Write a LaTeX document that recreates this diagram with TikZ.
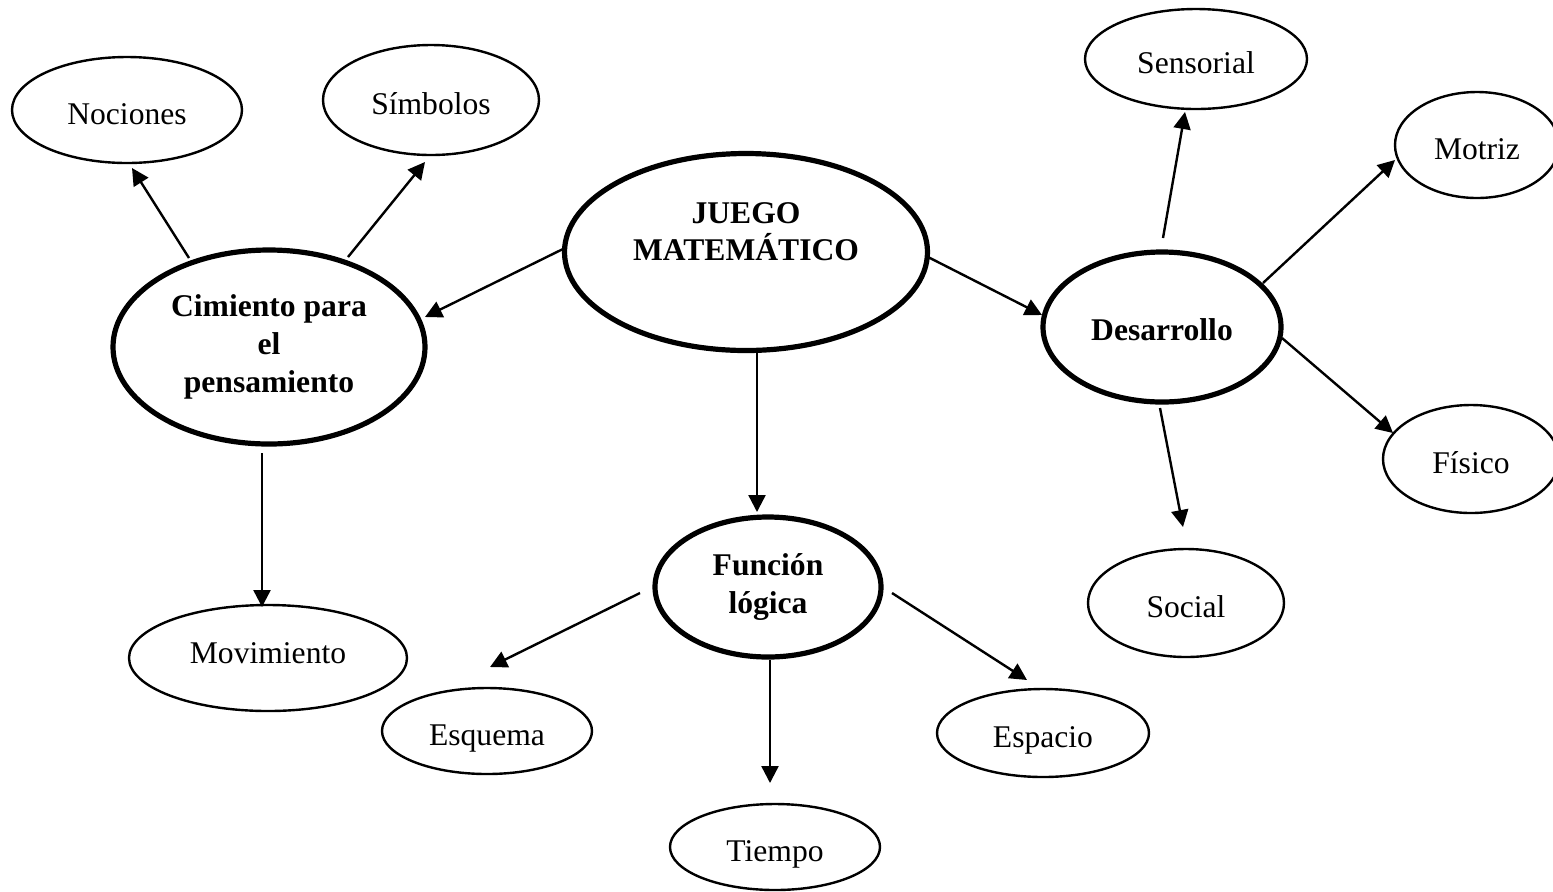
\documentclass[tikz,border=0pt]{standalone}
\usepackage{fontspec}
\setmainfont{Liberation Serif}
\usetikzlibrary{shapes.geometric,arrows.meta,calc}
\begin{document}
\begin{tikzpicture}[x=0.5pt,y=-0.5pt,
  ell/.style={ellipse,draw,line width=1.2pt,inner sep=0pt,text height=14pt,text depth=0pt,font=\fontsize{15.8}{19}\selectfont},
  bigell/.style={ellipse,draw,line width=2.6pt,inner sep=0pt,align=center,font=\fontsize{15.8}{19}\selectfont\bfseries},
  lbl/.style={align=center,inner sep=0pt,font=\fontsize{15.8}{18.5}\selectfont\bfseries},
  arr/.style={-{Triangle[length=8.5pt,width=8.5pt]},line width=1.2pt}]
\useasboundingbox (0,0) rectangle (1553,891);
% main nodes
\node[bigell,minimum width=181.5pt,minimum height=98.5pt] (juego) at (746,252) {};
\node[lbl] (juegot) at (746,232) {JUEGO\\MATEMÁTICO};
\node[bigell,minimum width=156pt,minimum height=97pt] (cim) at (269,347) {Cimiento para\\el\\pensamiento};
\node[bigell,minimum width=119pt,minimum height=75pt,text height=13pt,text depth=0pt] (des) at (1162,327) {Desarrollo};
\node[bigell,minimum width=113pt,minimum height=70pt] (func) at (768,587) {Función\\lógica};
% leaves
\node[ell,minimum width=115pt,minimum height=53pt] (noc) at (127,110) {Nociones};
\node[ell,minimum width=108pt,minimum height=55pt] (sim) at (431,100) {Símbolos};
\node[ell,minimum width=139pt,minimum height=53pt,text height=5pt] (mov) at (268,658) {Movimiento};
\node[ell,minimum width=111pt,minimum height=50pt] (sen) at (1196,59) {Sensorial};
\node[ell,minimum width=82pt,minimum height=53pt] (mot) at (1477,145) {Motriz};
\node[ell,minimum width=88pt,minimum height=54pt] (fis) at (1471,459) {Físico};
\node[ell,minimum width=98pt,minimum height=54pt] (soc) at (1186,603) {Social};
\node[ell,minimum width=105pt,minimum height=43pt] (esq) at (487,731) {Esquema};
\node[ell,minimum width=106pt,minimum height=44pt] (esp) at (1043,733) {Espacio};
\node[ell,minimum width=105pt,minimum height=43pt] (tie) at (775,847) {Tiempo};
% connectors
\draw[arr] ($(juego)+(-181,-4)$) -- ($(cim)+(156,-30)$);
\draw[arr] ($(juego)+(182,5)$) -- ($(des)+(-120,-12)$);
\draw[arr] ($(juego)+(11,98)$) -- ($(func)+(-11,-75)$);
\draw[arr] ($(cim)+(-80,-89)$) -- ($(noc)+(5,58)$);
\draw[arr] ($(cim)+(79,-90)$) -- ($(sim)+(-6,62)$);
\draw[arr] ($(cim)+(-7,106)$) -- ($(mov)+(-6,-51)$);
\draw[arr] ($(des)+(1,-89)$) -- ($(sen)+(-11,53)$);
\draw[arr] ($(des)+(101,-44)$) -- ($(mot)+(-82,15)$);
\draw[arr] ($(des)+(120,11)$) -- ($(fis)+(-78,-26)$);
\draw[arr] ($(des)+(-2,81)$) -- ($(soc)+(-3,-76)$);
\draw[arr] ($(func)+(-128,6)$) -- ($(esq)+(3,-64)$);
\draw[arr] ($(func)+(2,73)$) -- ($(tie)+(-5,-64)$);
\draw[arr] ($(func)+(124,6)$) -- ($(esp)+(-16,-53)$);
\end{tikzpicture}
\end{document}
